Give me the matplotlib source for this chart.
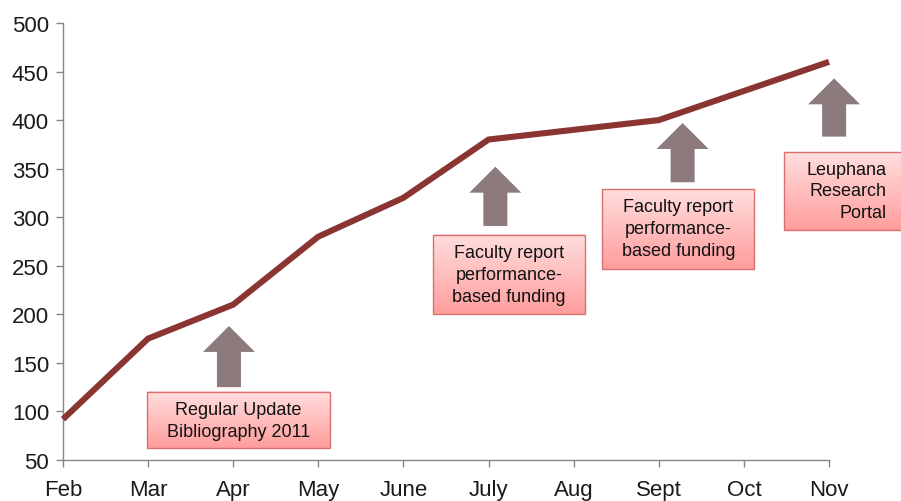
# Publications in the research database, Feb - Nov
import numpy as np
import matplotlib.pyplot as plt
from matplotlib.patches import Rectangle
from matplotlib.colors import LinearSegmentedColormap

plt.rcParams['font.family'] = ['Liberation Sans', 'DejaVu Sans']

# Data
months = ['Feb', 'Mar', 'Apr', 'May', 'June', 'July', 'Aug', 'Sept', 'Oct', 'Nov']
counts = [92, 175, 210, 280, 320, 380, 390, 400, 430, 460]

# Annotations: text, box (x0, x1, y0, y1), arrow (x, tail y, tip y)
notes = ['Regular Update\nBibliography 2011',
         'Faculty report\nperformance-\nbased funding',
         'Faculty report\nperformance-\nbased funding',
         'Leuphana\nResearch\nPortal']
boxes = [(0.99, 3.14, 62, 120),
         (4.35, 6.13, 200, 282),
         (6.33, 8.12, 247, 329),
         (8.47, 9.9, 287, 367)]
text_x = [2.06, 5.24, 7.23, 9.68]
text_ha = ['center', 'center', 'center', 'right']
arrows = [(1.95, 125, 188),
          (5.08, 291, 352),
          (7.28, 336, 397),
          (9.06, 383, 443)]

line_color = '#8b3532'
arrow_color = '#8c7a7d'
axis_color = '#868686'

fig = plt.figure(figsize=(9.01, 5.02), dpi=100)
ax = fig.add_axes([0.0699, 0.0817, 0.8502, 0.8705])

x = np.arange(len(months))
ax.plot(x, counts, color=line_color, linewidth=4.4, solid_capstyle='butt',
        solid_joinstyle='miter', zorder=3, clip_on=False)

# gradient boxes
grad = np.linspace(0, 1, 100).reshape(-1, 1)
cmap = LinearSegmentedColormap.from_list('pink', ['#ff9d9d', '#ffdede'])
for (x0, x1, y0, y1), tx, ha, label in zip(boxes, text_x, text_ha, notes):
    ax.imshow(grad, extent=(x0, x1, y0, y1), origin='lower', cmap=cmap,
              aspect='auto', clip_on=False, zorder=2)
    ax.add_patch(Rectangle((x0, y0), x1 - x0, y1 - y0, fill=False,
                           edgecolor='#d97070', linewidth=1.0,
                           clip_on=False, zorder=2))
    ax.text(tx, (y0 + y1) / 2, label, ha=ha, va='center', multialignment=ha,
            fontsize=13, color='#111111', linespacing=1.38, zorder=4)

# block arrows
for ax_x, y_tail, y_tip in arrows:
    ax.annotate('', xy=(ax_x, y_tip), xytext=(ax_x, y_tail),
                arrowprops=dict(arrowstyle='simple,head_length=1.87,'
                                'head_width=3.74,tail_width=1.73',
                                mutation_scale=10, color=arrow_color,
                                shrinkA=0, shrinkB=0, linewidth=0),
                annotation_clip=False, zorder=2)

ax.set_xlim(0, 9)
ax.set_ylim(50, 500)
ax.set_xticks(x)
ax.set_xticklabels(months)
ax.set_yticks(range(50, 501, 50))

for side in ['top', 'right']:
    ax.spines[side].set_visible(False)
for side in ['left', 'bottom']:
    ax.spines[side].set_color(axis_color)
    ax.spines[side].set_linewidth(1.0)
ax.tick_params(axis='both', colors=axis_color, labelcolor='#1a1a1a',
               length=5, width=1.0)
ax.tick_params(axis='x', pad=9, labelsize=16)
ax.tick_params(axis='y', pad=5, labelsize=16)

fig.savefig('out.png', dpi=100)
